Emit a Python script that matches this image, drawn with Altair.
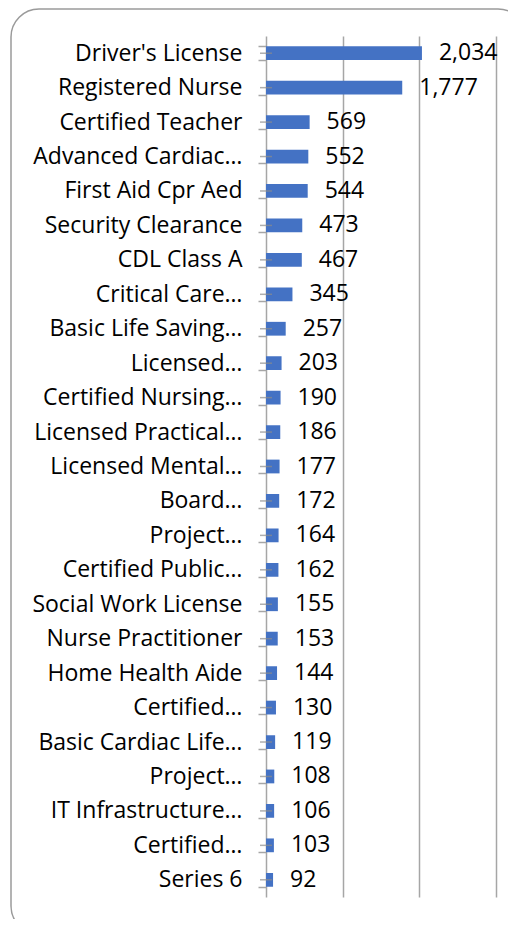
import json
import altair as alt
import pandas as pd

labels = [
    "Driver's License", "Registered Nurse", "Certified Teacher", "Advanced Cardiac…",
    "First Aid Cpr Aed", "Security Clearance", "CDL Class A", "Critical Care…",
    "Basic Life Saving…", "Licensed…", "Certified Nursing…", "Licensed Practical…",
    "Licensed Mental…", "Board…", "Project…", "Certified Public…",
    "Social Work License", "Nurse Practitioner", "Home Health Aide", "Certified…",
    "Basic Cardiac Life…", "Project…", "IT Infrastructure…", "Certified…", "Series 6",
]
counts = [2034, 1777, 569, 552, 544, 473, 467, 345, 257, 203, 190, 186, 177, 172,
          164, 162, 155, 153, 144, 130, 119, 108, 106, 103, 92]
grid_values = [1000, 2000, 3000]

df = pd.DataFrame({"idx": list(range(len(labels))), "label": labels, "count": counts})

FONT = "Open Sans"
FS = 23
GRAY = "#a6a6a6"

label_expr = json.dumps(labels) + "[datum.value]"

x_enc = alt.X(
    "count:Q",
    scale=alt.Scale(domain=[0, 3000], range=[255, 485], nice=False),
    axis=alt.Axis(title=None, orient="top", labels=False, ticks=False, domain=False,
                  grid=True, values=grid_values, gridColor=GRAY, gridWidth=1.5),
)
y_enc = alt.Y(
    "idx:O",
    sort="ascending",
    scale=alt.Scale(range=[27, 888], paddingInner=0.6, paddingOuter=0.3),
    axis=alt.Axis(title=None, labelExpr=label_expr, offset=-255, tickBand="extent",
                  tickSize=8, tickColor=GRAY, tickWidth=1.5, domainColor=GRAY,
                  domainWidth=1.5, labelFont=FONT, labelFontSize=FS, labelLimit=0,
                  labelColor="#000000", labelPadding=16, grid=False),
)

base = alt.Chart(df)

bars = base.mark_bar(color="#4472C4").encode(x=x_enc, y=y_enc)
texts = base.mark_text(align="left", baseline="middle", dx=17, font=FONT,
                       fontSize=FS, color="#000000").encode(
    x="count:Q", y="idx:O", text=alt.Text("count:Q", format=","))
centers = base.mark_tick(orient="horizontal", size=12, thickness=1.5,
                         color="#8c8c8c").encode(x=alt.datum(0), y="idx:O")

chart = alt.layer(bars, centers, texts).properties(
    width=515, height=925,
    padding={"left": 3, "top": 1, "right": -18, "bottom": -15},
    autosize=alt.AutoSizeParams(type="none"),
).configure_view(
    stroke="#9a9a9a", strokeWidth=1.5, cornerRadius=28,
)

chart.save("out.html", embed_options={"renderer": "svg", "actions": False})
